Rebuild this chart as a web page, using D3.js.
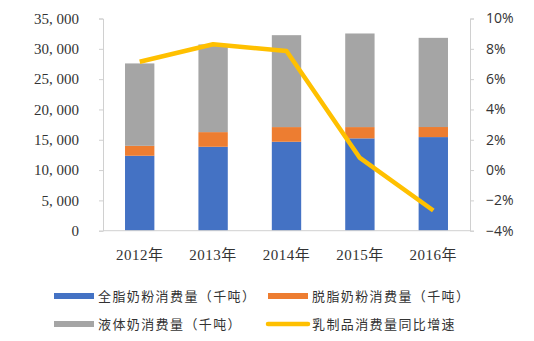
<!DOCTYPE html>
<html>
<head>
<meta charset="utf-8">
<script src="https://cdn.jsdelivr.net/npm/d3@7"></script>
<style>
  html, body { margin: 0; padding: 0; background: #fff; }
  svg { display: block; }
</style>
</head>
<body>
<svg id="chart" width="534" height="341"></svg>
<script>
// Dairy consumption by year (thousand tonnes) and year-on-year growth
const years = ["2012年", "2013年", "2014年", "2015年", "2016年"];
const wholeMilkPowder = [12360, 13840, 14670, 15230, 15440];
const skimMilkPowder = [1640, 2420, 2420, 1860, 1660];
const liquidMilk = [13590, 14460, 15160, 15440, 14710];
const growthRate = [7.15, 8.3, 7.85, 0.8, -2.67];
const leftTicks = [0, 5000, 10000, 15000, 20000, 25000, 30000, 35000];
const rightTicks = [-4, -2, 0, 2, 4, 6, 8, 10];

const seriesNames = ["全脂奶粉消费量（千吨）", "脱脂奶粉消费量（千吨）", "液体奶消费量（千吨）", "乳制品消费量同比增速"];
const colors = ["#4472C4", "#ED7D31", "#A5A5A5", "#FFC000"];

const svg = d3.select("#chart");
const plotLeft = 103, plotRight = 470, plotTop = 18.5, plotBottom = 230.7;

const x = d3.scaleBand().domain(years).range([plotLeft, plotRight]).paddingInner(0.6).paddingOuter(0.3);
const yL = d3.scaleLinear().domain([0, 35000]).range([plotBottom, plotTop]);
const yR = d3.scaleLinear().domain([-4, 10]).range([plotBottom, plotTop]);

const fmtL = v => v === 0 ? "0" : d3.format(",")(v).replace(",", ", ");

// stacked bars
const rows = years.map((yr, i) => ({ year: yr, a: wholeMilkPowder[i], b: skimMilkPowder[i], c: liquidMilk[i] }));
const stack = d3.stack().keys(["a", "b", "c"])(rows);
svg.append("g").selectAll("g").data(stack).join("g")
  .attr("fill", (d, i) => colors[i])
  .selectAll("rect").data(d => d).join("rect")
  .attr("x", d => x(d.data.year))
  .attr("width", x.bandwidth())
  .attr("y", d => yL(d[1]))
  .attr("height", d => yL(d[0]) - yL(d[1]));

// left axis
const axL = svg.append("g").attr("transform", `translate(${plotLeft},0)`)
  .call(d3.axisLeft(yL).tickValues(leftTicks).tickFormat(fmtL).tickSize(4).tickPadding(20));
axL.select(".domain").attr("stroke", "#D0D0D0");
axL.selectAll(".tick line").attr("stroke", "#D0D0D0");
axL.selectAll("text").attr("font-family", "'Liberation Serif', 'Times New Roman', serif")
  .attr("font-size", 15).attr("fill", "#333");

// right axis
const axR = svg.append("g").attr("transform", `translate(${plotRight},0)`)
  .call(d3.axisRight(yR).tickValues(rightTicks).tickFormat(v => (v < 0 ? "\u2212" + (-v) : v) + "%").tickSize(4).tickPadding(12));
axR.select(".domain").attr("stroke", "#D0D0D0");
axR.selectAll(".tick line").attr("stroke", "#D0D0D0");
axR.selectAll("text").attr("font-family", "'Open Sans', 'Liberation Sans', sans-serif")
  .attr("font-size", 14).attr("fill", "#333");

// bottom axis baseline
svg.append("line").attr("x1", plotLeft).attr("x2", plotRight).attr("y1", plotBottom).attr("y2", plotBottom)
  .attr("stroke", "#D0D0D0");

// year labels
svg.append("g").selectAll("text").data(years).join("text")
  .attr("x", d => x(d) + x.bandwidth() / 2)
  .attr("y", 260)
  .attr("text-anchor", "middle")
  .attr("font-family", "'Liberation Serif', 'Noto Sans CJK SC', serif")
  .attr("font-size", 15).attr("letter-spacing", 0.5).attr("fill", "#333")
  .text(d => d);

// growth line
const line = d3.line().x((d, i) => x(years[i]) + x.bandwidth() / 2).y(d => yR(d));
svg.append("path").datum(growthRate)
  .attr("d", line).attr("fill", "none")
  .attr("stroke", colors[3]).attr("stroke-width", 4.5).attr("stroke-linejoin", "round");

// legend
const legendPos = [[54, 296], [268, 296], [54, 324], [268, 324]];
const lg = svg.append("g").selectAll("g").data(seriesNames).join("g")
  .attr("transform", (d, i) => `translate(${legendPos[i][0]},${legendPos[i][1]})`);
lg.append("line").attr("x1", 0).attr("x2", 40).attr("y1", 0).attr("y2", 0)
  .attr("stroke", (d, i) => colors[i]).attr("stroke-width", (d, i) => i === 3 ? 4.5 : 6)
  .attr("stroke-linecap", (d, i) => i === 3 ? "round" : "butt");
lg.append("text").attr("x", 44).attr("y", 5)
  .attr("font-family", "'Noto Sans CJK SC', sans-serif").attr("font-size", 13)
  .attr("letter-spacing", 1.4).attr("fill", "#333")
  .text(d => d);
</script>
</body>
</html>
